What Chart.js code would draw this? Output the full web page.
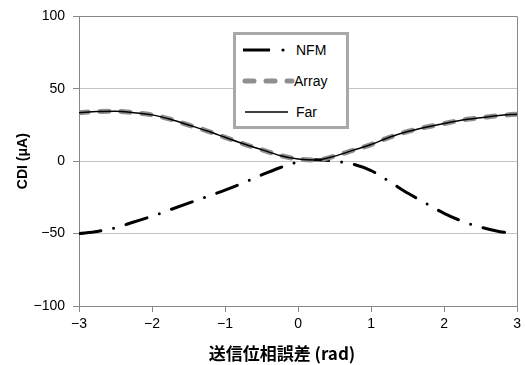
<!DOCTYPE html>
<html>
<head>
<meta charset="utf-8">
<script src="https://cdn.jsdelivr.net/npm/chart.js@4/dist/chart.umd.min.js"></script>
<style>
    body { margin: 0; background: #fff; }
    #contenedor { position: relative; width: 525px; height: 365px; }
    #leyenda {
        position: absolute; left: 233px; top: 32px; width: 110px; height: 91px;
        border: 3px solid #a8a8a8; background: #fff;
        font: 14px "Liberation Sans", Arial, sans-serif; color: #000;
    }
    #leyenda svg { position: absolute; left: 0; top: 0; }
    #leyenda span { position: absolute; left: 60px; line-height: 16px; }
</style>
</head>
<body>
<div id="contenedor">
    <canvas id="grafica" width="525" height="365"></canvas>
    <div id="leyenda">
        <svg width="60" height="91">
            <line x1="7" y1="15" x2="34" y2="15" stroke="#000" stroke-width="3"/>
            <circle cx="47" cy="15" r="1.6" fill="#000"/>
            <line x1="9" y1="46" x2="56" y2="46" stroke="#8f8f8f" stroke-width="5" stroke-linecap="round" stroke-dasharray="9 12"/>
            <line x1="9" y1="77" x2="52" y2="77" stroke="#000" stroke-width="1.5"/>
        </svg>
        <span style="top:7px">NFM</span>
        <span style="top:38px;left:58px">Array</span>
        <span style="top:69px">Far</span>
    </div>
</div>
<script>
// fase (rad)
const fase = [-3, -2.75, -2.5, -2.25, -2, -1.75, -1.5, -1.25, -1, -0.75, -0.5, -0.25, 0,
    0.25, 0.5, 0.75, 1, 1.25, 1.5, 1.75, 2, 2.25, 2.5, 2.75, 3];

const nfm = [-50, -48.5, -46, -42, -38, -33.5, -29, -24.5, -20, -15, -9.5, -4.5, -0.5,
    1, 0, -2, -6.5, -14, -22, -29, -36, -41.5, -45.5, -48.5, -50];

const arreglo = [33.5, 34.3, 34.5, 33.5, 32, 29, 25, 21, 16.5, 12, 8, 4, 1.5,
    0.8, 3.5, 7.5, 11.5, 16.5, 20.5, 23.5, 26, 28.5, 30, 31.5, 32.5];

const lejano = [33.5, 34.3, 34.5, 33.5, 32, 29, 25, 21, 16.5, 12, 8, 4, 1.5,
    0.8, 3.5, 7.5, 11.5, 16.5, 20.5, 23.5, 26, 28.5, 30, 31.5, 32.5];

const ticksX = [-3, -2, -1, 0, 1, 2, 3];
const ticksY = [-100, -50, 0, 50, 100];

function puntos(valores) {
    return fase.map((x, i) => ({ x: x, y: valores[i] }));
}

function etiqueta(v) {
    return v < 0 ? "\u2212" + Math.abs(v) : String(v);
}

const fuente = { family: "'Liberation Sans', Arial, sans-serif", size: 14 };

const tituloX = {
    id: "tituloX",
    afterDraw(chart) {
        const ctx = chart.ctx;
        ctx.save();
        ctx.font = "bold 17px 'Noto Sans CJK JP', sans-serif";
        ctx.fillStyle = "#000";
        ctx.textAlign = "center";
        ctx.textBaseline = "middle";
        ctx.fillText("送信位相誤差 (rad)", 282, 354);
        ctx.restore();
    }
};

new Chart(document.getElementById("grafica"), {
    type: "line",
    data: {
        datasets: [
            {
                label: "Far",
                data: puntos(lejano),
                borderColor: "#000",
                borderWidth: 1.5,
                order: 0
            },
            {
                label: "Array",
                data: puntos(arreglo),
                borderColor: "#8f8f8f",
                borderWidth: 5,
                borderDash: [9, 12],
                borderCapStyle: "round",
                order: 1
            },
            {
                label: "NFM",
                data: puntos(nfm),
                borderColor: "#000",
                borderWidth: 3,
                borderDash: [22, 13, 0, 13],
                borderCapStyle: "round",
                order: 2
            }
        ]
    },
    options: {
        responsive: false,
        animation: false,
        layout: { padding: { left: 0, right: 5, top: 15, bottom: 0 } },
        elements: {
            point: { radius: 0 },
            line: { tension: 0.4, cubicInterpolationMode: "monotone" }
        },
        plugins: {
            legend: { display: false },
            tooltip: { enabled: false }
        },
        scales: {
            x: {
                type: "linear",
                min: -3,
                max: 3,
                afterFit: (escala) => { escala.height = 59; },
                afterBuildTicks: (escala) => { escala.ticks = ticksX.map((v) => ({ value: v })); },
                border: { color: "#888" },
                grid: {
                    color: (c) => (c.tick && (c.tick.value === 3) ? "#888" : "rgba(0,0,0,0)"),
                    tickColor: "#888",
                    tickLength: 6
                },
                ticks: {
                    color: "#000",
                    font: fuente,
                    padding: 4,
                    maxRotation: 0,
                    callback: etiqueta
                }
            },
            y: {
                min: -100,
                max: 100,
                afterFit: (escala) => { escala.width = 79; },
                afterBuildTicks: (escala) => { escala.ticks = ticksY.map((v) => ({ value: v })); },
                border: { color: "#888" },
                grid: {
                    color: (c) => (c.tick && c.tick.value === 100 ? "#888" : "#c4c4c4"),
                    tickColor: "#888",
                    tickLength: 6
                },
                ticks: {
                    color: "#000",
                    font: fuente,
                    padding: 8,
                    callback: etiqueta
                },
                title: {
                    display: true,
                    text: "CDI (μA)",
                    color: "#000",
                    font: { family: "'Liberation Sans', 'Noto Sans CJK JP', sans-serif", size: 14, weight: "bold" },
                    padding: { top: 15, bottom: 0 }
                }
            }
        }
    },
    plugins: [tituloX]
});
</script>
</body>
</html>
